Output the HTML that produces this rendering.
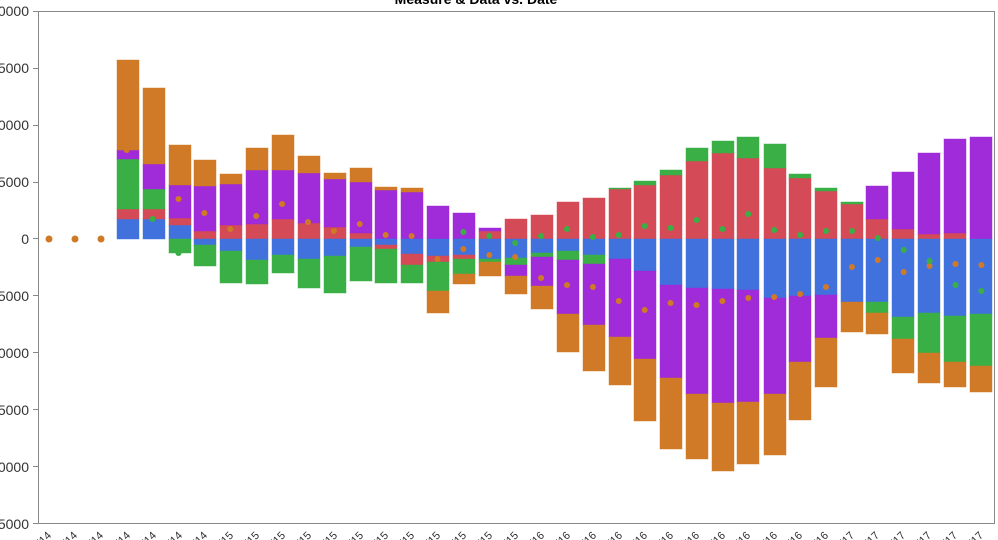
<!DOCTYPE html>
<html><head><meta charset="utf-8"><style>
html,body{margin:0;padding:0;background:#fff;width:998px;height:540px;overflow:hidden}
svg{position:absolute;left:0;top:0}
text{font-family:"Liberation Sans",sans-serif}
</style></head><body>
<svg id="c" width="998" height="540" xmlns="http://www.w3.org/2000/svg">
<rect x="0" y="0" width="998" height="540" fill="#fff"/>
<text x="476" y="4" text-anchor="middle" font-size="14" font-weight="bold" fill="#000">Measure &amp; Data vs. Date</text>
<g font-size="14" fill="#333" text-anchor="end">
<text x="29" y="16">20000</text><text x="29" y="73">15000</text><text x="29" y="130">10000</text>
<text x="29" y="187">5000</text><text x="29" y="244">0</text><text x="29" y="301">-5000</text>
<text x="29" y="358">-10000</text><text x="29" y="415">-15000</text><text x="29" y="472">-20000</text>
<text x="29" y="529">-25000</text>
</g>
<g stroke="#888" stroke-width="1" fill="none">
<line x1="38.5" y1="11" x2="38.5" y2="524"/>
<line x1="38.5" y1="523.5" x2="994" y2="523.5"/>
<line x1="38.5" y1="11.5" x2="994" y2="11.5"/>
<line x1="994.5" y1="11" x2="994.5" y2="524"/>
<line x1="33" y1="11.5" x2="38" y2="11.5"/><line x1="33" y1="68.5" x2="38" y2="68.5"/>
<line x1="33" y1="125.5" x2="38" y2="125.5"/><line x1="33" y1="182.5" x2="38" y2="182.5"/>
<line x1="33" y1="238.5" x2="38" y2="238.5"/><line x1="33" y1="295.5" x2="38" y2="295.5"/>
<line x1="33" y1="352.5" x2="38" y2="352.5"/><line x1="33" y1="409.5" x2="38" y2="409.5"/>
<line x1="33" y1="466.5" x2="38" y2="466.5"/><line x1="33" y1="523.5" x2="38" y2="523.5"/>
</g>
<g id="bars"></g>
<g id="xl" font-size="11" fill="#333">
<text transform="translate(52,536) rotate(-45)" text-anchor="end">1/1/14</text>
<text transform="translate(78,536) rotate(-45)" text-anchor="end">2/1/14</text>
<text transform="translate(104,536) rotate(-45)" text-anchor="end">3/1/14</text>
<text transform="translate(131,536) rotate(-45)" text-anchor="end">4/1/14</text>
<text transform="translate(157,536) rotate(-45)" text-anchor="end">5/1/14</text>
<text transform="translate(183,536) rotate(-45)" text-anchor="end">6/1/14</text>
<text transform="translate(208,536) rotate(-45)" text-anchor="end">7/1/14</text>
<text transform="translate(234,536) rotate(-45)" text-anchor="end">1/1/15</text>
<text transform="translate(260,536) rotate(-45)" text-anchor="end">2/1/15</text>
<text transform="translate(286,536) rotate(-45)" text-anchor="end">3/1/15</text>
<text transform="translate(312,536) rotate(-45)" text-anchor="end">4/1/15</text>
<text transform="translate(338,536) rotate(-45)" text-anchor="end">5/1/15</text>
<text transform="translate(364,536) rotate(-45)" text-anchor="end">6/1/15</text>
<text transform="translate(389,536) rotate(-45)" text-anchor="end">7/1/15</text>
<text transform="translate(415,536) rotate(-45)" text-anchor="end">8/1/15</text>
<text transform="translate(441,536) rotate(-45)" text-anchor="end">9/1/15</text>
<text transform="translate(467,536) rotate(-45)" text-anchor="end">10/1/15</text>
<text transform="translate(493,536) rotate(-45)" text-anchor="end">11/1/15</text>
<text transform="translate(519,536) rotate(-45)" text-anchor="end">12/1/15</text>
<text transform="translate(545,536) rotate(-45)" text-anchor="end">1/1/16</text>
<text transform="translate(571,536) rotate(-45)" text-anchor="end">2/1/16</text>
<text transform="translate(597,536) rotate(-45)" text-anchor="end">3/1/16</text>
<text transform="translate(623,536) rotate(-45)" text-anchor="end">4/1/16</text>
<text transform="translate(648,536) rotate(-45)" text-anchor="end">5/1/16</text>
<text transform="translate(674,536) rotate(-45)" text-anchor="end">6/1/16</text>
<text transform="translate(700,536) rotate(-45)" text-anchor="end">7/1/16</text>
<text transform="translate(726,536) rotate(-45)" text-anchor="end">8/1/16</text>
<text transform="translate(751,536) rotate(-45)" text-anchor="end">9/1/16</text>
<text transform="translate(778,536) rotate(-45)" text-anchor="end">10/1/16</text>
<text transform="translate(803,536) rotate(-45)" text-anchor="end">11/1/16</text>
<text transform="translate(829,536) rotate(-45)" text-anchor="end">12/1/16</text>
<text transform="translate(855,536) rotate(-45)" text-anchor="end">1/1/17</text>
<text transform="translate(880,536) rotate(-45)" text-anchor="end">2/1/17</text>
<text transform="translate(906,536) rotate(-45)" text-anchor="end">3/1/17</text>
<text transform="translate(932,536) rotate(-45)" text-anchor="end">4/1/17</text>
<text transform="translate(958,536) rotate(-45)" text-anchor="end">5/1/17</text>
<text transform="translate(984,536) rotate(-45)" text-anchor="end">6/1/17</text>
</g>
</svg>
<script>
var O="#d07a27",P="#9f2bd9",G="#3aaf45",R="#d44a57",B="#4171dd";
var bars=[
[128,[[219,239,B],[209,219,R],[159,209,G],[150,159,P],[60,150,O]]],
[154,[[219,239,B],[209,219,R],[189,209,G],[164,189,P],[88,164,O]]],
[180,[[225,239,B],[218,225,R],[185,218,P],[145,185,O],[239,253,G]]],
[205,[[231,239,R],[186,231,P],[160,186,O],[239,245,B],[245,266,G]]],
[231,[[225,239,R],[184,225,P],[174,184,O],[239,251,B],[251,283,G]]],
[257,[[224,239,R],[170,224,P],[148,170,O],[239,260,B],[260,284,G]]],
[283,[[219,239,R],[170,219,P],[135,170,O],[239,255,B],[255,273,G]]],
[309,[[223,239,R],[173,223,P],[156,173,O],[239,259,B],[259,288,G]]],
[335,[[227,239,R],[179,227,P],[173,179,O],[239,256,B],[256,293,G]]],
[361,[[233,239,R],[182,233,P],[168,182,O],[239,247,B],[247,281,G]]],
[386,[[190,239,P],[187,190,O],[239,245,B],[245,249,R],[249,283,G]]],
[412,[[192,239,P],[188,192,O],[239,254,B],[254,265,R],[265,283,G]]],
[438,[[206,239,P],[239,256,B],[256,262,R],[262,291,G],[291,313,O]]],
[464,[[213,239,P],[239,255,B],[255,259,R],[259,274,G],[274,284,O]]],
[490,[[231,239,R],[228,231,P],[239,259,B],[259,262,G],[262,276,O]]],
[516,[[219,239,R],[239,258,B],[258,265,G],[265,276,P],[276,294,O]]],
[542,[[215,239,R],[239,253,B],[253,257,G],[257,286,P],[286,309,O]]],
[568,[[202,239,R],[239,251,B],[251,260,G],[260,314,P],[314,352,O]]],
[594,[[198,239,R],[239,255,B],[255,264,G],[264,325,P],[325,371,O]]],
[620,[[189,239,R],[188,189,G],[239,259,B],[259,337,P],[337,385,O]]],
[645,[[185,239,R],[181,185,G],[239,271,B],[271,359,P],[359,421,O]]],
[671,[[175,239,R],[170,175,G],[239,285,B],[285,378,P],[378,449,O]]],
[697,[[161,239,R],[148,161,G],[239,288,B],[288,394,P],[394,459,O]]],
[723,[[153,239,R],[141,153,G],[239,289,B],[289,403,P],[403,471,O]]],
[748,[[158,239,R],[137,158,G],[239,290,B],[290,402,P],[402,464,O]]],
[775,[[168,239,R],[144,168,G],[239,298,B],[298,394,P],[394,455,O]]],
[800,[[178,239,R],[174,178,G],[239,296,B],[296,362,P],[362,420,O]]],
[826,[[191,239,R],[188,191,G],[239,295,B],[295,338,P],[338,387,O]]],
[852,[[204,239,R],[202,204,G],[239,302,B],[302,332,O]]],
[877,[[219,239,R],[186,219,P],[239,302,B],[302,313,G],[313,334,O]]],
[903,[[229,239,R],[172,229,P],[239,317,B],[317,339,G],[339,373,O]]],
[929,[[234,239,R],[153,234,P],[239,313,B],[313,353,G],[353,383,O]]],
[955,[[233,239,R],[139,233,P],[239,316,B],[316,362,G],[362,387,O]]],
[981,[[137,239,P],[239,314,B],[314,366,G],[366,392,O]]]
];
var od=[null,null,null,150,null,199,213,229,216,204,222,231,224,235,236,259,249,255,257,278,285,287,301,310,303,305,301,298,297,294,287,267,260,272,266,264,265];
var gd=[null,null,null,null,219,253,null,null,null,null,null,null,null,null,null,null,232,236,243,236,229,237,235,226,228,220,229,214,230,235,231,231,238,250,261,285,291,296];
var s='';
bars.forEach(function(b){var x=b[0]-11;b[1].forEach(function(g){
s+='<rect x="'+x+'" y="'+g[0]+'" width="22" height="'+(g[1]-g[0])+'" fill="'+g[2]+'" stroke="'+g[2]+'" stroke-opacity="0.45" stroke-width="1"/>';});});
[49,75,101].forEach(function(x){s+='<circle cx="'+x+'" cy="239" r="3.5" fill="'+O+'"/>';});
for(var i=3;i<37;i++){var x=49+i*25.9;
 if(od[i])s+='<circle cx="'+x+'" cy="'+od[i]+'" r="3" fill="'+O+'"/>';
 if(gd[i])s+='<circle cx="'+x+'" cy="'+gd[i]+'" r="3" fill="'+G+'"/>';}
document.getElementById('bars').innerHTML=s;
</script>
</body></html>
